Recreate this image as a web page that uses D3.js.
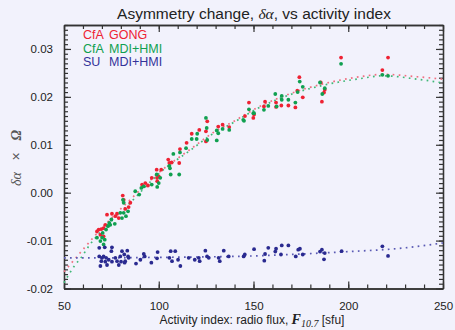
<!DOCTYPE html>
<html>
<head>
<meta charset="utf-8">
<title>Asymmetry change</title>
<script src="https://cdn.jsdelivr.net/npm/d3@7"></script>
<style>
  body { margin: 0; background: #f2f2fc; }
  svg { display: block; font-family: "Liberation Sans", Arial, Helvetica, sans-serif; }
</style>
</head>
<body>
<svg id="chart" width="455" height="330"></svg>
<script>
// [F10.7, delta alpha]
var gong = [
  [68.3,-0.0077],[67.4,-0.0081],[69.7,-0.0076],[70.9,-0.0074],[71.8,-0.0067],[72.7,-0.0046],
  [75.3,-0.0044],[77.1,-0.0049],[78.0,-0.0044],[78.9,-0.0053],[81.0,-0.0006],[81.5,-0.0015],
  [82.3,-0.0034],[84.1,-0.0030],[85.0,-0.0021],[91.2,0.0017],[92.9,0.0020],[94.3,0.0015],
  [99.1,0.0031],[100.0,0.0034],[101.3,0.0048],[69.2,-0.0088],[70.9,-0.0091],
  [98.9,0.0048],[96.3,0.0031],[99.2,0.0024],[105.0,0.0069],[105.6,0.0062],[106.8,0.0063],
  [111.2,0.0091],[110.8,0.0062],[114.7,0.0104],[117.4,0.0123],[121.4,0.0131],[125.6,0.0149],
  [124.9,0.0128],[131.4,0.0138],[133.7,0.0142],[137.2,0.0137],[145.5,0.0160],[147.6,0.0188],
  [149.9,0.0156],[150.3,0.0163],[124.9,0.0107],
  [156.1,0.0190],[155.5,0.0180],[161.9,0.0188],[161.9,0.0179],[164.7,0.0182],[168.4,0.0182],
  [172.1,0.0178],[173.1,0.0213],[174.2,0.0241],[176.0,0.0199],[185.5,0.0230],[186.1,0.0190],
  [187.2,0.0209],[187.6,0.0215],[196.2,0.0282],[218.0,0.0256],[221.0,0.0282]
];
var cfaMdi = [
  [67.4,-0.0094],[69.2,-0.0101],[70.1,-0.0094],[71.5,-0.0098],[70.4,-0.0084],[72.2,-0.0077],
  [73.2,-0.0070],[73.9,-0.0063],[74.4,-0.0067],[75.0,-0.0056],[76.8,-0.0065],[79.7,-0.0042],
  [80.6,-0.0053],[81.5,-0.0042],[81.5,-0.0021],[81.1,-0.0015],[82.7,-0.0049],[83.8,-0.0039],
  [87.6,0.0003],[89.7,-0.0004],[90.8,0.0010],[92.1,0.0013],[100.0,0.0020],[100.8,0.0031],
  [70.9,-0.0108],
  [96.3,0.0017],[99.2,0.0012],[98.9,0.0038],[105.6,0.0056],[105.9,0.0051],[106.3,0.0038],
  [110.8,0.0038],[107.7,0.0081],[111.2,0.0084],[114.4,0.0093],[117.4,0.0112],[120.0,0.0112],
  [120.3,0.0123],[124.9,0.0156],[125.3,0.0135],[125.6,0.0110],[130.6,0.0130],[130.6,0.0109],
  [131.4,0.0124],[133.7,0.0133],[137.2,0.0131],[144.6,0.0152],[145.0,0.0150],[147.6,0.0174],
  [149.9,0.0166],
  [150.3,0.0166],[155.5,0.0173],[157.8,0.0181],[161.5,0.0206],[162.2,0.0180],[164.9,0.0202],
  [164.9,0.0194],[168.4,0.0194],[172.1,0.0188],[173.3,0.0210],[174.4,0.0232],[176.0,0.0221],
  [185.1,0.0230],[186.3,0.0206],[187.6,0.0218],[196.2,0.0269],[218.0,0.0246],[221.0,0.0244]
];
var su = [
  [68.6,-0.0115],[71.5,-0.0114],[75.3,-0.0114],[75.0,-0.0122],[68.6,-0.0133],[70.1,-0.0136],
  [70.9,-0.0133],[72.2,-0.0136],[73.6,-0.0140],[69.7,-0.0143],[71.8,-0.0144],[69.2,-0.0153],
  [72.7,-0.0151],[75.3,-0.0144],[77.1,-0.0136],[78.0,-0.0143],[79.7,-0.0133],[80.6,-0.0122],
  [81.8,-0.0129],[83.4,-0.0121],[82.3,-0.0143],[83.8,-0.0133],[80.1,-0.0144],[84.1,-0.0136],
  [82.0,-0.0146],[78.9,-0.0151],[88.0,-0.0148],[90.3,-0.0140],[92.6,-0.0133],[92.1,-0.0128],
  [96.1,-0.0146],[99.4,-0.0124],[99.1,-0.0137],[105.6,-0.0136],[106.3,-0.0122],[107.0,-0.0143],
  [108.7,-0.0122],[110.2,-0.0140],[111.4,-0.0153],[115.8,-0.0136],[119.0,-0.0140],[121.1,-0.0136],
  [121.6,-0.0143],[124.6,-0.0121],[125.5,-0.0133],[126.4,-0.0136],[131.6,-0.0136],[132.2,-0.0143],
  [134.3,-0.0121],[136.9,-0.0133],[144.8,-0.0133],[145.4,-0.0129],
  [150.3,-0.0118],[156.1,-0.0128],[155.7,-0.0142],[157.8,-0.0115],[161.9,-0.0117],[161.5,-0.0123],
  [164.9,-0.0110],[164.5,-0.0129],[168.4,-0.0110],[172.3,-0.0133],[173.6,-0.0119],[174.5,-0.0117],
  [176.0,-0.0129],[185.1,-0.0123],[186.1,-0.0119],[187.6,-0.0126],[187.2,-0.0139],[196.5,-0.0122],
  [218.0,-0.0112],[221.0,-0.0132]
];

// fitted curves
var fitGong = [[50,-0.0165],[59.5,-0.0121],[67.4,-0.0085],[83.8,-0.0019],[100.7,0.0044],[116.5,0.0090],
  [128.6,0.0125],[139.2,0.0148],[151.8,0.0177],[170.3,0.0208],[188.8,0.0229],[206.2,0.0242],
  [218.3,0.0247],[236.3,0.0242],[250,0.0237]];
var fitCfa = [[50,-0.0188],[55.3,-0.0154],[59.5,-0.0133],[63.7,-0.0108],[67.5,-0.0090],[84,-0.0025],
  [100.7,0.0042],[116.5,0.0088],[128.6,0.0123],[139.2,0.0146],[151.8,0.0175],[170.3,0.0206],
  [188.8,0.0226],[206.2,0.0238],[218.3,0.0244],[236.3,0.0237],[250,0.0229]];
var fitSu = [[50,-0.0136],[75,-0.0136],[100,-0.0135],[125,-0.0134],[150,-0.0132],[175,-0.0128],
  [200,-0.0123],[225,-0.0117],[250,-0.0105]];

var xTicks = [50, 100, 150, 200, 250];
var yTicks = [-0.02, -0.01, 0.00, 0.01, 0.02, 0.03];

var legendRows = [
  {a: 'CfA', b: 'GONG', color: '#ee2233'},
  {a: 'CfA', b: 'MDI+HMI', color: '#10a050'},
  {a: 'SU', b: 'MDI+HMI', color: '#33339a'}
];

var svg = d3.select('#chart');
var plotL = 64, plotR = 443, plotT = 25, plotB = 288.5;

var x = d3.scaleLinear().domain([50, 250]).range([plotL, plotR]);
var y = d3.scaleLinear().domain([-0.02, 0.035]).range([plotB, plotT]);

svg.append('rect').attr('width', 455).attr('height', 330).attr('fill', '#f2f2fc');

// axes, ticks pointing inward
var axisColor = '#333';
function drawAxis(axis, tx, ty, minor) {
  var g = svg.append('g').attr('transform', 'translate(' + tx + ',' + ty + ')').call(axis);
  g.selectAll('path').attr('stroke', axisColor).attr('stroke-width', 1.3);
  g.selectAll('line').attr('stroke', axisColor).attr('stroke-width', 1.2);
  if (minor) g.selectAll('text').remove();
  return g;
}
var xMinor = d3.range(50, 251, 10);
var yMinor = d3.range(-20, 36, 1).map(function(d) { return d / 1000; });

drawAxis(d3.axisBottom(x).tickValues(xMinor).tickSize(-4).tickSizeOuter(0), 0, plotB, true);
drawAxis(d3.axisTop(x).tickValues(xMinor).tickSize(-4).tickSizeOuter(0), 0, plotT, true);
drawAxis(d3.axisLeft(y).tickValues(yMinor).tickSize(-4).tickSizeOuter(0), plotL, 0, true);
drawAxis(d3.axisRight(y).tickValues(yMinor).tickSize(-4).tickSizeOuter(0), plotR, 0, true);

var gx = drawAxis(d3.axisBottom(x).tickValues(xTicks).tickSize(-7).tickSizeOuter(0).tickPadding(13), 0, plotB, false);
drawAxis(d3.axisTop(x).tickValues(xTicks).tickSize(-7).tickSizeOuter(0), 0, plotT, true);
var gy = drawAxis(d3.axisLeft(y).tickValues(yTicks).tickSize(-7).tickSizeOuter(0).tickPadding(11)
  .tickFormat(d3.format('.2f')), plotL, 0, false);
drawAxis(d3.axisRight(y).tickValues(yTicks).tickSize(-7).tickSizeOuter(0), plotR, 0, true);

svg.selectAll('.tick text').attr('font-size', 11.5).attr('fill', '#222')
  .attr('font-family', '"Liberation Sans", Arial, sans-serif');
gy.selectAll('.tick text').text(function(d) { return d3.format('.2f')(d).replace('−', '-'); });

// fit curves (dotted)
var line = d3.line().x(function(d) { return x(d[0]); }).y(function(d) { return y(d[1]); })
  .curve(d3.curveMonotoneX);
var fits = [
  {data: fitGong, color: '#f07080'},
  {data: fitCfa, color: '#40b878'},
  {data: fitSu, color: '#5a5ab4'}
];
svg.append('g').selectAll('path').data(fits).enter().append('path')
  .attr('d', function(d) { return line(d.data); })
  .attr('fill', 'none')
  .attr('stroke', function(d) { return d.color; })
  .attr('stroke-width', 1.7)
  .attr('stroke-dasharray', '1.7,4.3');

// points
var sets = [
  {data: gong, color: '#ee2233'},
  {data: cfaMdi, color: '#10a050'},
  {data: su, color: '#2a2a90'}
];
sets.forEach(function(s) {
  svg.append('g').selectAll('circle').data(s.data).enter().append('circle')
    .attr('cx', function(d) { return x(d[0]); })
    .attr('cy', function(d) { return y(d[1]); })
    .attr('r', 1.9)
    .attr('fill', s.color);
});

// legend
var lg = svg.append('g').attr('font-size', 12.5);
legendRows.forEach(function(r, i) {
  lg.append('text').attr('x', 83).attr('y', 39 + i * 13.7).attr('fill', r.color).text(r.a);
  lg.append('text').attr('x', 109).attr('y', 39 + i * 13.7).attr('fill', r.color).text(r.b);
});

// title
var title = svg.append('text').attr('x', 254).attr('y', 19).attr('text-anchor', 'middle')
  .attr('font-size', 15.5).attr('fill', '#222');
title.append('tspan').text('Asymmetry change, ');
title.append('tspan').attr('font-family', '"Liberation Serif", "DejaVu Serif", serif')
  .attr('font-style', 'italic').text('δα');
title.append('tspan').text(', vs activity index');

// y label
var ylab = svg.append('text').attr('transform', 'translate(21,158) rotate(-90)')
  .attr('text-anchor', 'middle').attr('font-size', 14).attr('fill', '#555');
ylab.append('tspan').attr('font-family', '"Liberation Serif", serif').attr('font-style', 'italic').text('δα');
ylab.append('tspan').attr('xml:space', 'preserve').text('   ×   ');
ylab.append('tspan').attr('font-family', '"Liberation Serif", serif').attr('font-style', 'italic')
  .attr('font-weight', 'bold').text('Ω');

// x label
var xlab = svg.append('text').attr('x', 252).attr('y', 324).attr('text-anchor', 'middle')
  .attr('font-size', 12).attr('fill', '#222');
xlab.append('tspan').text('Activity index: radio flux, ');
xlab.append('tspan').attr('font-family', '"Liberation Serif", serif').attr('font-style', 'italic')
  .attr('font-weight', 'bold').attr('font-size', 14).text('F');
xlab.append('tspan').attr('font-family', '"Liberation Serif", serif').attr('font-style', 'italic')
  .attr('font-size', 10).attr('dy', 2.5).text('10.7');
xlab.append('tspan').attr('dy', -2.5).text(' [sfu]');
</script>
</body>
</html>
